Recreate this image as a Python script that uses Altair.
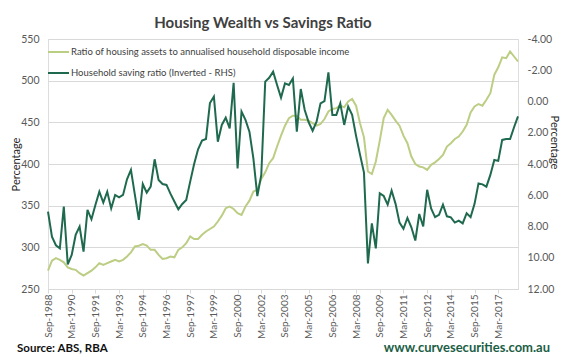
import altair as alt
import pandas as pd

# ---- data ----
x_labels = ["Sep-1988", "Mar-1990", "Sep-1991", "Mar-1993", "Sep-1994", "Mar-1996",
            "Sep-1997", "Mar-1999", "Sep-2000", "Mar-2002", "Sep-2003", "Mar-2005",
            "Sep-2006", "Mar-2008", "Sep-2009", "Mar-2011", "Sep-2012", "Mar-2014",
            "Sep-2015", "Mar-2017"]

housing_ratio = [
    272, 284, 287, 285, 282, 276, 274, 273, 269, 266,
    269, 272, 276, 281, 279, 281, 283, 285, 283, 285,
    289, 294, 301, 302, 304, 302, 297, 297, 291, 286,
    287, 289, 288, 297, 300, 305, 313, 310, 310, 315,
    319, 322, 325, 331, 338, 347, 349, 346, 341, 339,
    349, 356, 367, 369, 382, 390, 401, 407, 421, 434,
    446, 455, 458, 458, 453, 453, 452, 449, 446, 448,
    454, 463, 466, 467, 470, 468, 475, 478, 470, 449,
    432, 391, 388, 403, 428, 455, 465, 459, 452, 446,
    434, 425, 409, 400, 397, 396, 393, 399, 402, 406,
    411, 421, 425, 430, 433, 439, 447, 462, 469, 472,
    470, 477, 485, 507, 516, 528, 527, 535, 529, 523,
]

saving_ratio = [
    7.05, 8.65, 9.2, 9.4, 6.73, 10.42, 9.82, 8.54, 8.01, 9.61,
    6.94, 7.54, 6.62, 5.77, 6.47, 5.77, 6.84, 5.98, 6.13, 5.98,
    4.98, 4.38, 5.98, 7.58, 5.28, 5.83, 5.45, 3.70, 5.02, 5.28,
    5.34, 5.9, 6.4, 6.9, 6.56, 6.3, 5.13, 4.0, 3.06, 2.5,
    2.4, 0.1, -0.31, 2.57, 1.5, 1.04, 1.72, -1.2, 4.28, 0.65,
    1.18, 1.93, 3.64, 6.05, 4.7, -1.27, -1.52, -1.91, -1.06, -0.25,
    -1.16, -1.06, -1.48, 1.93, -0.8, 0.54, 1.33, 1.87, 1.29, 0.12,
    -0.03, -1.87, 0.86, 0.86, 0.12, 1.5, 0.33, 0.86, 2.2, 3.4,
    4.55, 10.36, 7.8, 9.4, 5.88, 6.05, 6.6, 5.7, 6.55, 7.75,
    8.15, 7.45, 8.05, 8.9, 7.2, 8.0, 5.65, 6.85, 7.4, 7.25,
    6.6, 7.35, 7.41, 7.75, 7.62, 7.8, 7.15, 7.4, 6.55, 5.24,
    5.3, 5.45, 4.7, 3.74, 3.8, 2.46, 2.4, 2.4, 1.65, 0.95,
]

left_ticks = [250, 300, 350, 400, 450, 500, 550]
right_ticks = [-4, -2, 0, 2, 4, 6, 8, 10, 12]

title_text = "Housing Wealth vs Savings Ratio"
legend_1 = "Ratio of housing assets to annualised household disposable income"
legend_2 = "Household saving ratio (Inverted - RHS)"
source_text = "Source: ABS, RBA"
site_text = "www.curvesecurities.com.au"

LIGHT = "#bccd84"
DARK = "#1f6a4e"
GRID = "#d9d9d9"
LABEL = "#595959"
FONT = "Lato"

df_h = pd.DataFrame({"i": list(range(len(housing_ratio))), "v": housing_ratio})
df_s = pd.DataFrame({"i": list(range(len(saving_ratio))), "v": saving_ratio})

label_array = "[" + ",".join("'" + s + "'" for s in x_labels) + "]"
x_tick_vals = [6 * k for k in range(len(x_labels))]

x_enc = alt.X(
    "i:Q",
    scale=alt.Scale(domain=[0, 119], nice=False, zero=False),
    axis=alt.Axis(
        values=x_tick_vals,
        labelExpr=label_array + "[round(datum.value/6)]",
        labelAngle=-90, labelAlign="right", labelBaseline="middle",
        labelFont=FONT, labelFontSize=10, labelColor=LABEL, labelPadding=1,
        grid=False, domainColor=GRID, tickColor=GRID, tickSize=4,
        title=None, labelOverlap=False,
    ),
)

housing_line = alt.Chart(df_h).mark_line(color=LIGHT, strokeWidth=2).encode(
    x=x_enc,
    y=alt.Y(
        "v:Q",
        scale=alt.Scale(domain=[250, 550], nice=False, zero=False),
        axis=alt.Axis(
            orient="left", values=left_ticks, grid=True, gridColor=GRID,
            domain=False, ticks=False, labelPadding=9,
            labelFont=FONT, labelFontSize=10.5, labelColor=LABEL,
            title="Percentage", titleFont=FONT, titleFontSize=11,
            titleFontWeight="normal", titleColor="#262626",
            titleAngle=-90, titleX=-32, titleY=125,
            titleAlign="center", titleBaseline="middle",
        ),
    ),
)

saving_line = alt.Chart(df_s).mark_line(color=DARK, strokeWidth=2).encode(
    x=x_enc,
    y=alt.Y(
        "v:Q",
        scale=alt.Scale(domain=[-4, 12], reverse=True, nice=False, zero=False),
        axis=alt.Axis(
            orient="right", values=right_ticks, grid=False,
            domain=False, ticks=False, labelPadding=9,
            labelExpr="(datum.value < 0 ? '-' : '') + format(abs(datum.value), '.2f')",
            labelFont=FONT, labelFontSize=10.5, labelColor=LABEL,
            title="Percentage", titleFont=FONT, titleFontSize=11,
            titleFontWeight="normal", titleColor="#262626",
            titleAngle=90, titleX=35, titleY=103,
            titleAlign="center", titleBaseline="middle",
        ),
    ),
)

one = pd.DataFrame({"k": [0]})

title_mark = alt.Chart(one).mark_text(
    text=title_text, font=FONT, fontSize=15, fontWeight="bold",
    color="#404040", align="center", baseline="middle",
).encode(x=alt.value(215), y=alt.value(-16))

leg_rule_1 = alt.Chart(one).mark_rule(color=LIGHT, strokeWidth=2).encode(
    x=alt.value(0), x2=alt.value(21), y=alt.value(13))
leg_rule_2 = alt.Chart(one).mark_rule(color=DARK, strokeWidth=2).encode(
    x=alt.value(0), x2=alt.value(21), y=alt.value(34))
leg_text_1 = alt.Chart(one).mark_text(
    text=legend_1, font=FONT, fontSize=9.5, color="#404040",
    align="left", baseline="middle").encode(x=alt.value(23), y=alt.value(13))
leg_text_2 = alt.Chart(one).mark_text(
    text=legend_2, font=FONT, fontSize=9.5, color="#404040",
    align="left", baseline="middle").encode(x=alt.value(23), y=alt.value(34))

source_mark = alt.Chart(one).mark_text(
    text=source_text, font=FONT, fontSize=11.5, fontWeight="bold",
    color="#111111", align="left", baseline="middle",
).encode(x=alt.value(-31), y=alt.value(310))

site_mark = alt.Chart(one).mark_text(
    text=site_text, font=FONT, fontSize=13, fontWeight="bold",
    color="#1b5e45", align="right", baseline="middle",
).encode(x=alt.value(502), y=alt.value(309))

chart = alt.layer(
    housing_line, saving_line,
    title_mark, leg_rule_1, leg_rule_2, leg_text_1, leg_text_2,
    source_mark, site_mark,
).resolve_scale(y="independent").properties(
    width=470, height=250,
    padding={"left": 40, "top": 31, "right": 44, "bottom": 67},
    autosize=alt.AutoSizeParams(type="none"),
).configure_view(stroke=None).configure(background="white")

chart.save("out.html", embed_options={"renderer": "svg", "actions": False})
